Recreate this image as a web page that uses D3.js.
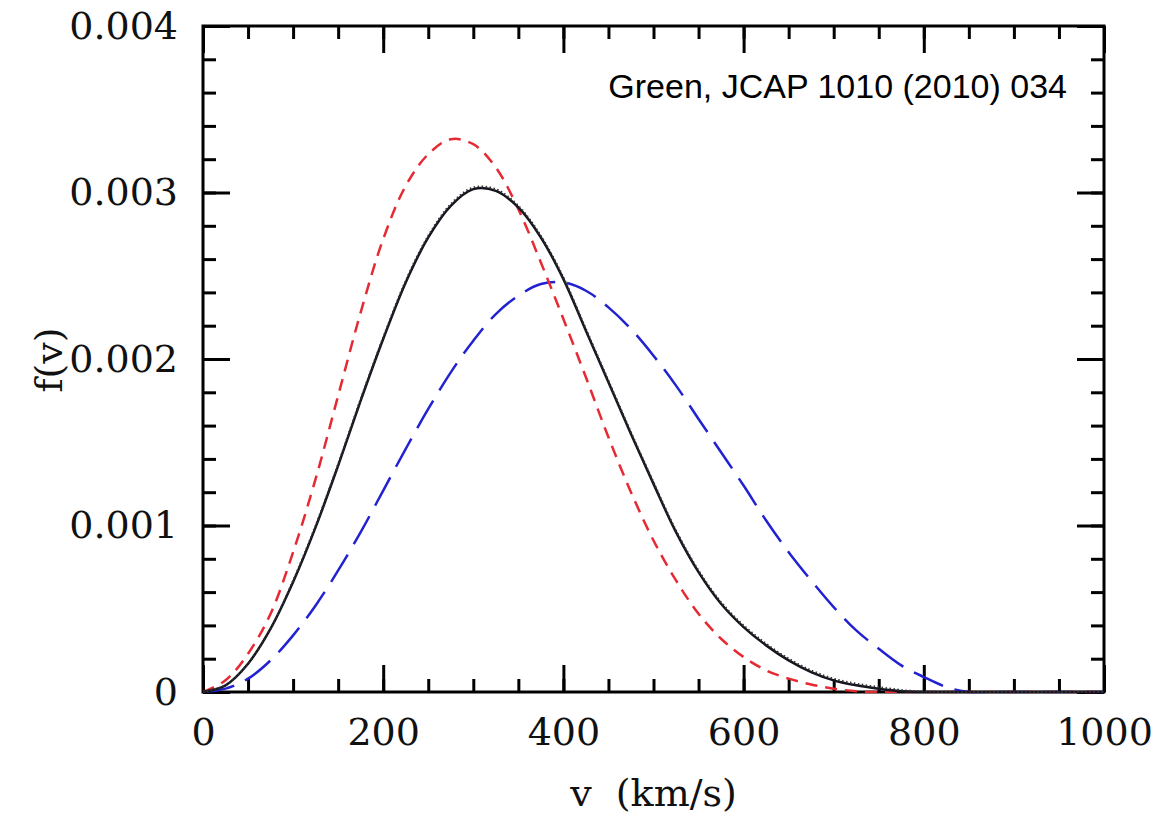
<!DOCTYPE html>
<meta charset="utf-8">
<body style="margin:0;background:#fff">
<script src="https://cdn.jsdelivr.net/npm/d3@7"></script>
<div id="chart"></div>
<script>

var speeds = [0, 25, 50, 75, 100, 125, 150, 175, 200, 225, 250, 275, 300, 325, 350, 375, 400,
              425, 450, 475, 500, 525, 550, 575, 600, 625, 650, 675, 700, 725, 750, 775, 800,
              825, 850, 875, 900, 925, 950, 975, 1000];

// black solid
var fSolid = [0, 0.00004, 0.00017, 0.00038, 0.00066, 0.00099, 0.00136, 0.00175, 0.00212, 0.00246,
              0.00273, 0.00292, 0.00302, 0.00301, 0.00291, 0.00273, 0.00248, 0.00217, 0.00186, 0.00155,
              0.00125, 0.00096, 0.00072, 0.00053, 0.00039, 0.00028, 0.00019, 0.00012, 0.00007, 0.00004,
              0.00002, 0.000005, 0, 0, 0, 0, 0, 0, 0, 0, 0];

// black dotted, almost on top of the solid one
var fDotted = [0, 0.00004, 0.00017, 0.00038, 0.00067, 0.001, 0.00137, 0.00176, 0.00213, 0.00247,
               0.00274, 0.00293, 0.00303, 0.00302, 0.00292, 0.00274, 0.00249, 0.00218, 0.00187, 0.00156,
               0.00126, 0.00097, 0.00073, 0.00054, 0.0004, 0.00029, 0.0002, 0.00013, 0.00008, 0.00005,
               0.00003, 0.000012, 0.000003, 0, 0, 0, 0, 0, 0, 0, 0];

// red short dashes
var fRed = [0, 0.00007, 0.00023, 0.00047, 0.00084, 0.00128, 0.00178, 0.00228, 0.00272, 0.00304,
            0.00323, 0.00332, 0.00329, 0.00315, 0.0029, 0.00258, 0.00224, 0.00189, 0.00153, 0.0012,
            0.00091, 0.00067, 0.00047, 0.00032, 0.00021, 0.00013, 0.00008, 0.000045, 0.00002, 0.000005,
            0, 0, 0, 0, 0, 0, 0, 0, 0, 0, 0];

// blue long dashes
var fBlue = [0, 0.00002, 0.00008, 0.00019, 0.00034, 0.00052, 0.00073, 0.00096, 0.00121, 0.00146,
             0.0017, 0.00192, 0.00211, 0.00227, 0.00238, 0.00245, 0.00246, 0.00241, 0.00231, 0.00218,
             0.00202, 0.00184, 0.00164, 0.00144, 0.00124, 0.00103, 0.00084, 0.00067, 0.00051, 0.00037,
             0.00026, 0.00016, 0.00009, 0.00003, 0, 0, 0, 0, 0, 0, 0];

var xMajor = [0, 200, 400, 600, 800, 1000];
var yMajor = [0, 0.001, 0.002, 0.003, 0.004];

var width = 1168, height = 817;
var mLeft = 203, mRight = 1104, mTop = 26, mBottom = 692;

var svg = d3.select("#chart").append("svg")
    .attr("width", width)
    .attr("height", height);

var x = d3.scaleLinear().domain([0, 1000]).range([mLeft, mRight]);
var y = d3.scaleLinear().domain([0, 0.004]).range([mBottom, mTop]);

var minorX = d3.range(0, 1001, 50);
var minorY = d3.range(0, 0.00401, 0.0002);

var serif = "'DejaVu Serif', serif";

function styleAxis(g) {
    g.select(".domain").remove();
    g.selectAll(".tick line").attr("stroke", "#000").attr("stroke-width", 3);
    g.selectAll("text").attr("font-family", serif).attr("font-size", 38).attr("fill", "#111");
}

var yFmt = d => d === 0 ? "0" : d3.format(".3f")(d);

// minor ticks, all four sides
svg.append("g").attr("transform", `translate(0,${mBottom})`)
   .call(d3.axisBottom(x).tickValues(minorX).tickSize(-13).tickFormat("")).call(styleAxis);
svg.append("g").attr("transform", `translate(0,${mTop})`)
   .call(d3.axisTop(x).tickValues(minorX).tickSize(-13).tickFormat("")).call(styleAxis);
svg.append("g").attr("transform", `translate(${mLeft},0)`)
   .call(d3.axisLeft(y).tickValues(minorY).tickSize(-13).tickFormat("")).call(styleAxis);
svg.append("g").attr("transform", `translate(${mRight},0)`)
   .call(d3.axisRight(y).tickValues(minorY).tickSize(-13).tickFormat("")).call(styleAxis);

// major ticks with labels
svg.append("g").attr("transform", `translate(0,${mBottom})`)
   .call(d3.axisBottom(x).tickValues(xMajor).tickSize(-27).tickPadding(26).tickFormat(d3.format("d")))
   .call(styleAxis);
svg.append("g").attr("transform", `translate(0,${mTop})`)
   .call(d3.axisTop(x).tickValues(xMajor).tickSize(-27).tickFormat("")).call(styleAxis);
svg.append("g").attr("transform", `translate(${mLeft},0)`)
   .call(d3.axisLeft(y).tickValues(yMajor).tickSize(-27).tickPadding(25).tickFormat(yFmt))
   .call(styleAxis);
svg.append("g").attr("transform", `translate(${mRight},0)`)
   .call(d3.axisRight(y).tickValues(yMajor).tickSize(-27).tickFormat("")).call(styleAxis);

// frame
svg.append("rect")
   .attr("x", mLeft).attr("y", mTop)
   .attr("width", mRight - mLeft).attr("height", mBottom - mTop)
   .attr("fill", "none").attr("stroke", "#000").attr("stroke-width", 3);

svg.append("clipPath").attr("id", "plot")
   .append("rect").attr("x", mLeft).attr("y", mTop - 2)
   .attr("width", mRight - mLeft).attr("height", mBottom - mTop + 3.5);

var line = d3.line()
    .x(d => x(d[0]))
    .y(d => y(d[1]))
    .curve(d3.curveCatmullRom.alpha(0.5));

var series = [
    {vals: fBlue, color: "#2222d2", w: 2.5, dash: "32,12"},
    {vals: fRed, color: "#e52a33", w: 2.5, dash: "12,8"},
    {vals: fSolid, color: "#15151f", w: 2.5, dash: null},
    {vals: fDotted, color: "#333", w: 2, dash: "1.5,2.5"}
];

// curves drawn over the frame, the flat tails show on the axis line
var curves = svg.append("g").attr("clip-path", "url(#plot)");
curves.selectAll("path")
    .data(series)
    .enter()
    .append("path")
    .attr("d", s => line(speeds.map((v, i) => [v, s.vals[i]])))
    .attr("fill", "none")
    .attr("stroke", s => s.color)
    .attr("stroke-width", s => s.w)
    .attr("stroke-dasharray", s => s.dash);

svg.append("text")
   .attr("x", (mLeft + mRight) / 2).attr("y", 806)
   .attr("text-anchor", "middle")
   .attr("font-family", serif).attr("font-size", 38).attr("fill", "#111")
   .attr("xml:space", "preserve")
   .text("v  (km/s)");

svg.append("text")
   .attr("transform", "translate(62,360) rotate(-90)")
   .attr("text-anchor", "middle")
   .attr("font-family", serif).attr("font-size", 38).attr("fill", "#111")
   .text("f(v)");

svg.append("text")
   .attr("x", 1067).attr("y", 98)
   .attr("text-anchor", "end")
   .attr("font-family", "'Liberation Sans', Arial, sans-serif").attr("font-size", 34).attr("fill", "#000")
   .text("Green, JCAP 1010 (2010) 034");

</script>
